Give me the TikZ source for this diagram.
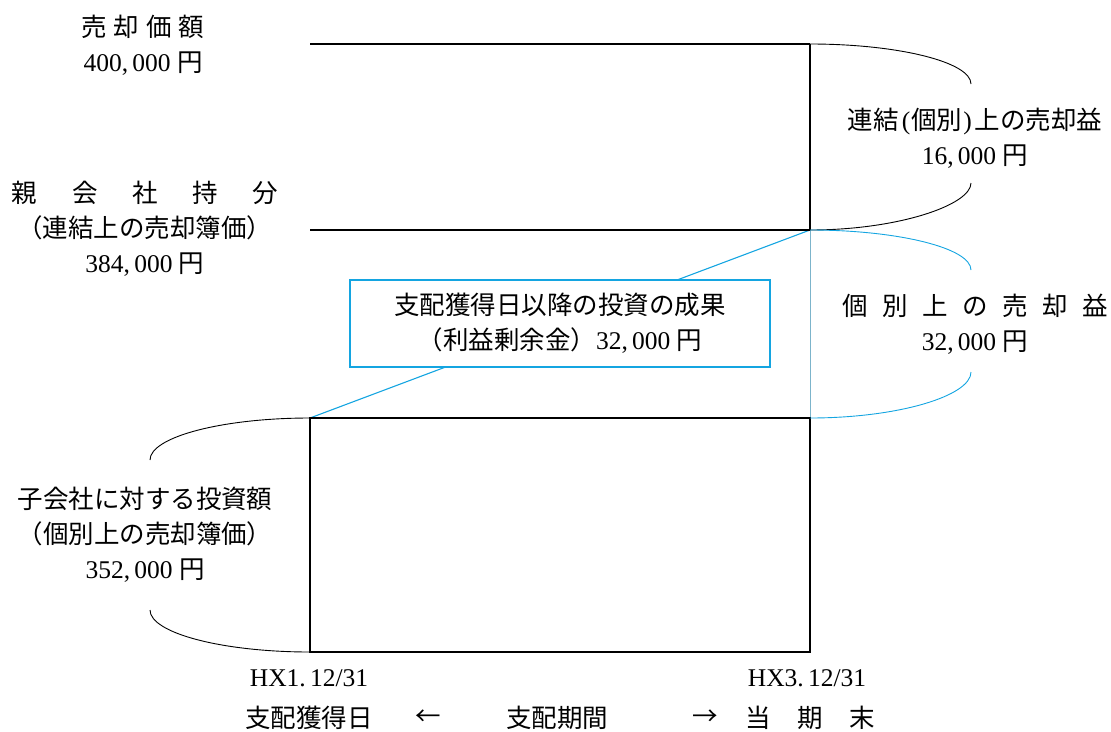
\documentclass[tikz,border=0pt]{standalone}
\usepackage{fontspec}
\setmainfont{Liberation Serif}
\newfontfamily\cjk{Noto Sans CJK JP}
\definecolor{ablue}{RGB}{20,165,225}
\tikzset{
  thinl/.style={line width=1.1pt, black},
  thickl/.style={line width=2.4pt, black},
  bluel/.style={line width=1.1pt, ablue},
  bracel/.style={line width=0.9pt, black},
  bbracel/.style={line width=0.9pt, ablue},
  lbl/.style={align=center, font=\fontsize{25.5}{35}\selectfont, inner sep=0pt},
}
\begin{document}
\begin{tikzpicture}[x=1pt,y=-1pt]
\useasboundingbox (0,0) rectangle (1111,731);
% corner points
\coordinate (A) at (310,44);
\coordinate (B) at (810,44);
\coordinate (C) at (310,230);
\coordinate (D) at (810,230);
\coordinate (E) at (310,418);
\coordinate (F) at (810,418);
\coordinate (G) at (310,652);
\coordinate (H) at (810,652);
% brace tips
\coordinate (r1a) at (971,84);
\coordinate (r1b) at (971,183);
\coordinate (r2a) at (971,270);
\coordinate (r2b) at (971,372);
\coordinate (l1a) at (150,460);
\coordinate (l1b) at (150,610);

% blue diagonal (behind box)
\draw[bluel] (E) -- (D);
\node[draw=ablue, line width=1.1pt, fill=white, minimum width=420pt, minimum height=87pt, lbl] (box) at (560,323.5)
  {{\cjk 支配獲得日以降の投資の成果}\\{\cjk （利益剰余金）}32,\,000 {\cjk 円}};

% lines
\draw[thinl] (A) -- (B);
\draw[thinl] (C) -- (D);
\draw[thickl] (B) -- (D);
\draw[line width=0.8pt, ablue!55!gray!70] (D) -- (F);
\draw[thickl] (E) rectangle (H);

% braces
\draw[bracel] (B) .. controls (898,44) and (971,62) .. (r1a);
\draw[bracel] (r1b) .. controls (971,205) and (898,230) .. (D);
\draw[bbracel] (D) .. controls (898,230) and (971,248) .. (r2a);
\draw[bbracel] (r2b) .. controls (971,396) and (898,418) .. (F);
\draw[bracel] (E) .. controls (222,418) and (150,437) .. (l1a);
\draw[bracel] (l1b) .. controls (150,633) and (222,652) .. (G);

% left labels
\node[lbl] (sale) at (143,45)
  {\makebox[123pt][s]{\cjk 売\hfill 却\hfill 価\hfill 額}\\400,\,000 {\cjk 円}};
\node[lbl] (parent) at (145,229)
  {\makebox[266pt][s]{\cjk 親\hfill 会\hfill 社\hfill 持\hfill 分}\\{\cjk （連結上の売却簿価）}\\384,\,000 {\cjk 円}};
\node[lbl] (child) at (145,535)
  {{\cjk 子会社に対する投資額}\\{\cjk （個別上の売却簿価）}\\352,\,000 {\cjk 円}};

% right labels
\node[lbl] (gain1) at (975,138)
  {{\cjk 連結}\kern3pt(\kern1pt{\cjk 個別}\kern1pt)\kern3pt{\cjk 上の売却益}\\16,\,000 {\cjk 円}};
\node[lbl] (gain2) at (975,324)
  {\makebox[265pt][s]{\cjk 個\hfill 別\hfill 上\hfill の\hfill 売\hfill 却\hfill 益}\\32,\,000 {\cjk 円}};

% dates
\node[lbl] (d1) at (309,678) {HX1.\,12/31};
\node[lbl] (d2) at (807,678) {HX3.\,12/31};

% bottom row
\node[lbl] (acq) at (309,718) {\cjk 支配獲得日};
\node[lbl] (larr) at (428,718) {\cjk ←};
\node[lbl] (period) at (557,718) {\cjk 支配期間};
\node[lbl] (rarr) at (705,718) {\cjk →};
\node[lbl] (end) at (810,718) {\makebox[130pt][s]{\cjk 当\hfill 期\hfill 末}};
\end{tikzpicture}
\end{document}
